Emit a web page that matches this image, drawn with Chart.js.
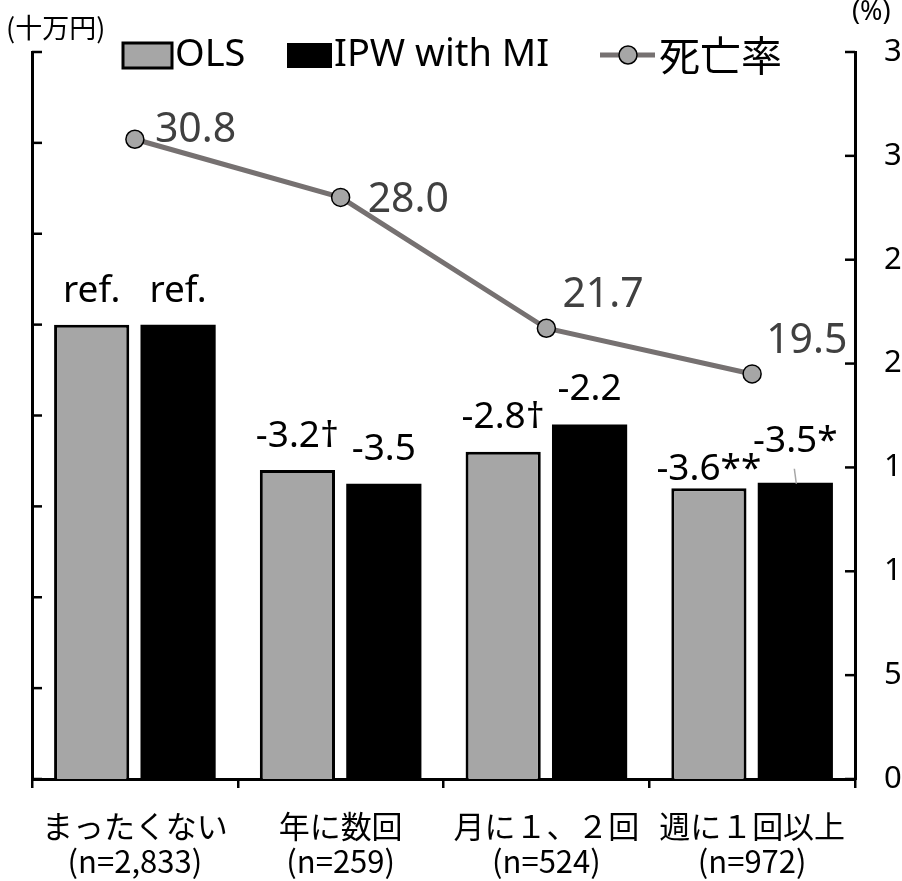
<!DOCTYPE html>
<html lang="ja">
<head>
<meta charset="utf-8">
<title>OLS / IPW with MI / 死亡率</title>
<script src="https://cdn.jsdelivr.net/npm/chart.js@4.4.1/dist/chart.umd.min.js"></script>
<style>
  html, body { margin: 0; padding: 0; background: #fff; }
  #wrap { width: 902px; height: 881px; }
</style>
</head>
<body>
<div id="wrap"><canvas id="chart" width="902" height="881"></canvas></div>
<script>
// categories (two-line tick labels)
const categories = [
  ['まったくない', '(n=2,833)'],
  ['年に数回', '(n=259)'],
  ['月に１、２回', '(n=524)'],
  ['週に１回以上', '(n=972)']
];

// bar heights (十万円, 0-8, unlabelled)
const olsValues = [5.0, 3.40, 3.60, 3.20];
const ipwValues = [5.0, 3.25, 3.90, 3.26];
const olsLabels = ['ref.', '-3.2†', '-2.8†', '-3.6**'];
const ipwLabels = ['ref.', '-3.5', '-2.2', '-3.5*'];

// mortality (%) on the right axis
const deathRate = [30.8, 28.0, 21.7, 19.5];
const deathLabels = ['30.8', '28.0', '21.7', '19.5'];

const leftMax = 8;
const rightMax = 35;
const rightStep = 5;

// label placement tweaks (px) -- style only
const deathLabelOffsets = [[20, 3], [27, 15], [16, -21], [14, -21]];
const olsLabelLift = [23, 23, 24, 8];
const ipwLabelLift = [23, 24, 25, 31];

const FONT = "'Noto Sans CJK JP', 'Noto Sans', sans-serif";
const LATIN = "'Noto Sans', 'Noto Sans CJK JP', sans-serif";
const GRAY = '#a6a6a6';
const LINE_GRAY = '#767171';

function drawInwardTicks(chart, scale, dir) {
  const ctx = chart.ctx;
  const x = dir > 0 ? scale.right : scale.left;
  ctx.save();
  ctx.strokeStyle = '#000';
  ctx.lineWidth = 2.5;
  scale.ticks.forEach(t => {
    const y = scale.getPixelForValue(t.value);
    ctx.beginPath();
    ctx.moveTo(x, y);
    ctx.lineTo(x + dir * 10, y);
    ctx.stroke();
  });
  ctx.restore();
}

const labelPlugin = {
  id: 'labelPlugin',
  afterDraw(chart) {
    const ctx = chart.ctx;
    const ds = chart.data.datasets;

    drawInwardTicks(chart, chart.scales.y, 1);
    drawInwardTicks(chart, chart.scales.y1, -1);

    ctx.save();
    // bar labels
    ctx.fillStyle = '#000';
    ctx.font = '37px ' + LATIN;
    ctx.textAlign = 'center';
    ctx.textBaseline = 'alphabetic';
    [[0, olsLabels, olsLabelLift], [1, ipwLabels, ipwLabelLift]].forEach(([i, labels, lift]) => {
      chart.getDatasetMeta(i).data.forEach((bar, j) => {
        ctx.fillText(labels[j], bar.x, bar.y - lift[j]);
        if (lift[j] > 28) {
          ctx.save();
          ctx.strokeStyle = GRAY;
          ctx.lineWidth = 1.5;
          ctx.beginPath();
          ctx.moveTo(bar.x - 1, bar.y - 14);
          ctx.lineTo(bar.x + 1, bar.y + 1);
          ctx.stroke();
          ctx.restore();
        }
      });
    });

    // line labels
    ctx.fillStyle = '#404040';
    ctx.font = '41px ' + LATIN;
    ctx.textAlign = 'left';
    chart.getDatasetMeta(2).data.forEach((pt, j) => {
      const off = deathLabelOffsets[j];
      ctx.fillText(deathLabels[j], pt.x + off[0], pt.y + off[1]);
    });

    // axis units
    ctx.fillStyle = '#000';
    ctx.textBaseline = 'middle';
    ctx.font = '27px ' + FONT;
    ctx.fillText('(十万円)', 6, 28);
    ctx.font = '27px ' + LATIN;
    ctx.fillText('(%)', 852, 12);

    // legend
    const ly = 55;
    ctx.lineWidth = 3;
    ctx.strokeStyle = '#000';
    ctx.fillStyle = ds[0].backgroundColor;
    ctx.fillRect(123, 43, 49, 25);
    ctx.strokeRect(123, 43, 49, 25);
    ctx.fillStyle = '#000';
    ctx.font = '38px ' + LATIN;
    ctx.fillText(ds[0].label, 175, ly);
    ctx.fillStyle = ds[1].backgroundColor;
    ctx.fillRect(287, 43, 45, 25);
    ctx.fillStyle = '#000';
    ctx.fillText(ds[1].label, 334, ly);
    ctx.strokeStyle = ds[2].borderColor;
    ctx.lineWidth = 5;
    ctx.beginPath();
    ctx.moveTo(600, ly);
    ctx.lineTo(655, ly);
    ctx.stroke();
    ctx.beginPath();
    ctx.arc(628, ly, 9, 0, Math.PI * 2);
    ctx.fillStyle = GRAY;
    ctx.fill();
    ctx.lineWidth = 1.5;
    ctx.strokeStyle = '#000';
    ctx.stroke();
    ctx.fillStyle = '#000';
    ctx.font = '41px ' + FONT;
    ctx.fillText(ds[2].label, 659, ly);
    ctx.restore();
  }
};

new Chart(document.getElementById('chart').getContext('2d'), {
  type: 'bar',
  data: {
    labels: categories,
    datasets: [
      {
        label: 'OLS',
        data: olsValues,
        yAxisID: 'y',
        backgroundColor: GRAY,
        borderColor: '#000',
        borderWidth: 3,
        categoryPercentage: 0.84,
        barPercentage: 0.87,
        order: 1
      },
      {
        label: 'IPW with MI',
        data: ipwValues,
        yAxisID: 'y',
        backgroundColor: '#000',
        borderColor: '#000',
        borderWidth: 0,
        categoryPercentage: 0.84,
        barPercentage: 0.87,
        order: 1
      },
      {
        type: 'line',
        label: '死亡率',
        data: deathRate,
        yAxisID: 'y1',
        borderColor: LINE_GRAY,
        borderWidth: 5,
        pointRadius: 9,
        pointBackgroundColor: GRAY,
        pointBorderColor: '#000',
        pointBorderWidth: 1.5,
        tension: 0,
        order: 0
      }
    ]
  },
  options: {
    responsive: false,
    animation: false,
    layout: { padding: { top: 52, left: 0, right: 0, bottom: 0 } },
    plugins: { legend: { display: false }, tooltip: { enabled: false } },
    scales: {
      x: {
        offset: true,
        grid: { display: true, drawOnChartArea: false, drawTicks: true, tickLength: 9, color: '#000', lineWidth: 2.5, offset: true },
        border: { display: true, color: '#000', width: 3 },
        ticks: { color: '#000', font: { family: FONT, size: 31, lineHeight: 1.13 }, padding: 21, maxRotation: 0, autoSkip: false },
        afterFit(scale) { scale.height = 102; }
      },
      y: {
        position: 'left',
        min: 0,
        max: leftMax,
        ticks: { display: false, stepSize: 1 },
        grid: { display: false },
        border: { display: true, color: '#000', width: 3 },
        afterFit(scale) { scale.width = 32; }
      },
      y1: {
        position: 'right',
        min: 0,
        max: rightMax,
        ticks: { stepSize: rightStep, color: '#000', padding: 21, font: { family: LATIN, size: 31 } },
        grid: { display: false },
        border: { display: true, color: '#000', width: 3 },
        afterFit(scale) { scale.width = 47; }
      }
    }
  },
  plugins: [labelPlugin]
});
</script>
</body>
</html>
